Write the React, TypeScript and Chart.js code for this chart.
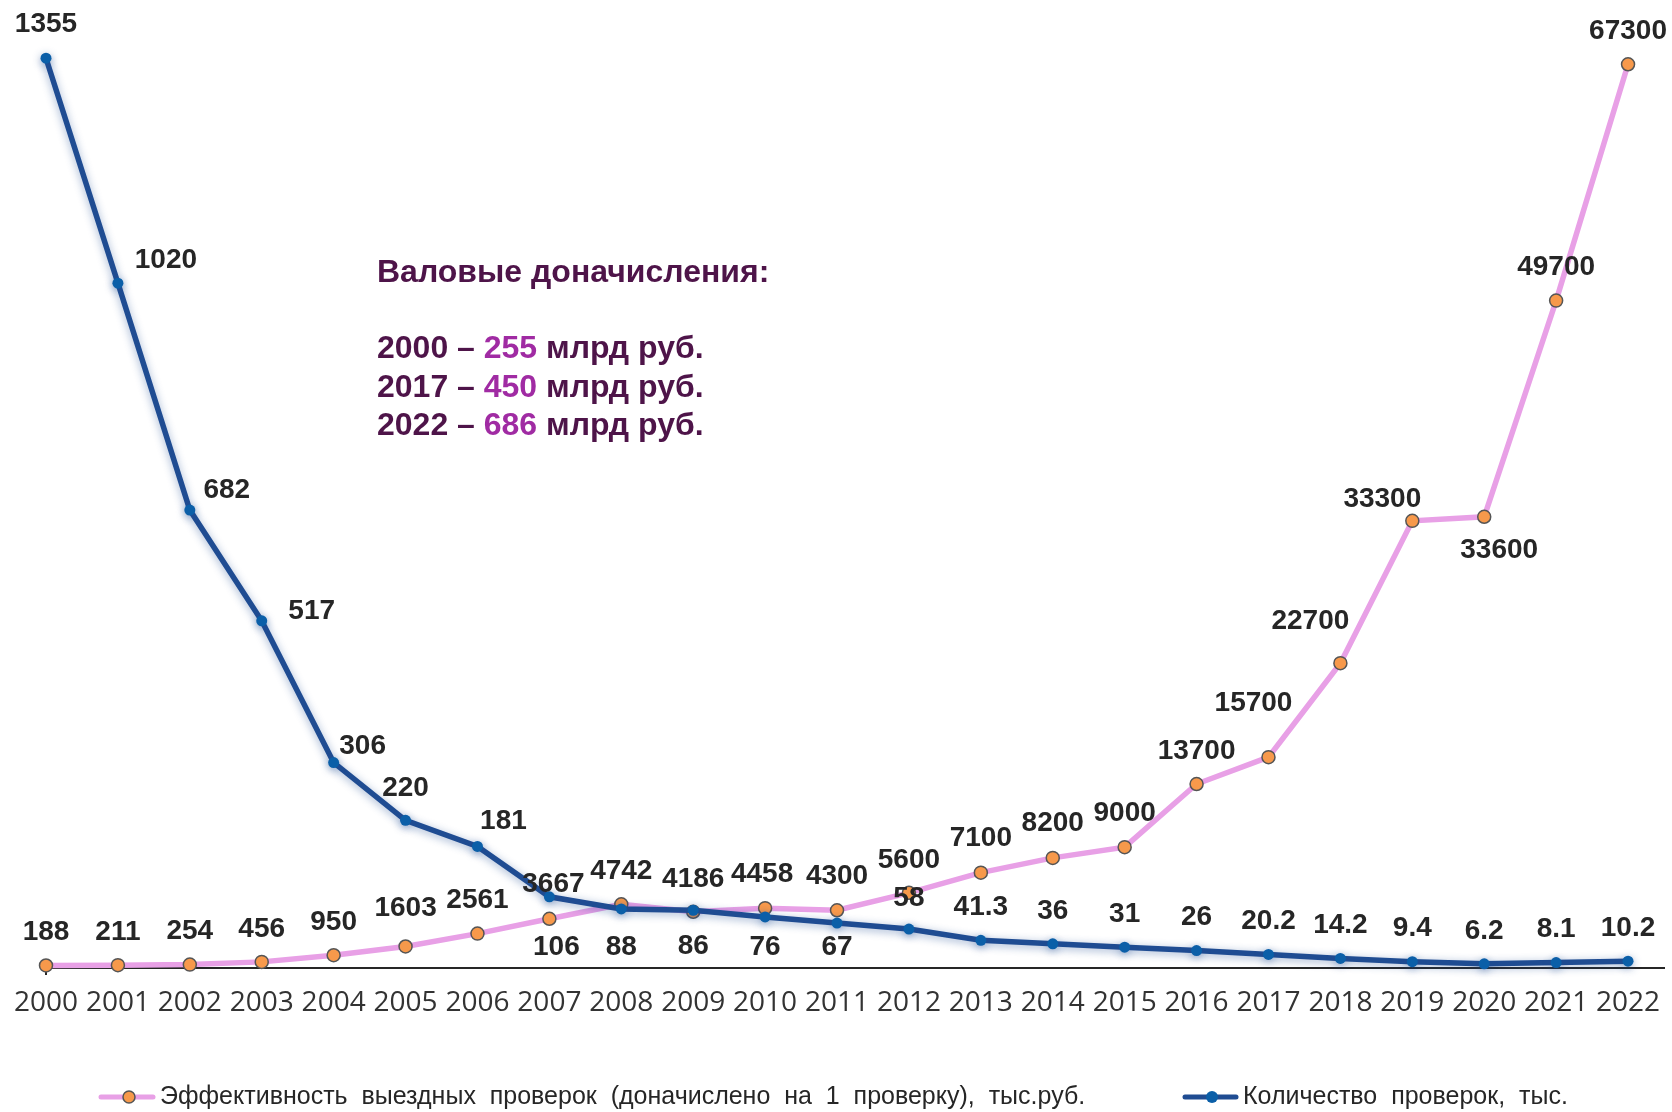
import React, { useEffect, useRef } from 'react';
import { Chart, registerables } from 'chart.js';

Chart.register(...registerables);

// ---------- data ----------
const years = [
  2000, 2001, 2002, 2003, 2004, 2005, 2006, 2007, 2008, 2009, 2010, 2011,
  2012, 2013, 2014, 2015, 2016, 2017, 2018, 2019, 2020, 2021, 2022,
];
const inspectionsCount = [
  1355, 1020, 682, 517, 306, 220, 181, 106, 88, 86, 76, 67, 58, 41.3, 36, 31,
  26, 20.2, 14.2, 9.4, 6.2, 8.1, 10.2,
];
const efficiencyPerInspection = [
  188, 211, 254, 456, 950, 1603, 2561, 3667, 4742, 4186, 4458, 4300, 5600,
  7100, 8200, 9000, 13700, 15700, 22700, 33300, 33600, 49700, 67300,
];
const seriesNames = [
  'Эффективность  выездных  проверок  (доначислено  на  1  проверку),  тыс.руб.',
  'Количество  проверок,  тыс.',
];
const noteTitle = 'Валовые доначисления:';
const noteYears = ['2000', '2017', '2022'];
const noteAmounts = ['255', '450', '686'];
const noteUnit = ' млрд руб.';

// ---------- label placement (pixel offsets from each point) ----------
const countLabelOffsets: [number, number][] = [
  [0, -34], [48, -23], [37, -20], [50, -10], [29, -16], [0, -32], [26, -25],
  [7, 50], [0, 38], [0, 36], [0, 30], [0, 24], [0, -31], [0, -33], [0, -33],
  [0, -33], [0, -33], [0, -33], [0, -33], [0, -33], [0, -33], [0, -33], [0, -33],
];
const effLabelOffsets: [number, number][] = [
  [0, -33], [0, -33], [0, -33], [0, -33], [0, -33], [0, -38], [0, -33],
  [4, -34], [0, -33], [0, -33], [-3, -34], [0, -34], [0, -33], [0, -34],
  [0, -35], [0, -34], [0, -33], [-15, -54], [-30, -42], [-30, -22], [15, 33],
  [0, -33], [0, -33],
];

const BLUE = '#1F4C92';
const BLUE_PT = '#0B5FA8';
const PINK = '#E8A0E6';
const ORANGE = '#F7994B';
const TEXT = '#262626';
const PURPLE_DARK = '#4E1449';
const PURPLE = '#A02BA3';

const labelFont = 'bold 28px "Liberation Sans", Arial, sans-serif';

const dataLabelsPlugin = {
  id: 'dataLabels',
  afterDatasetsDraw(chart: any) {
    const ctx = chart.ctx;
    ctx.save();
    ctx.font = labelFont;
    ctx.fillStyle = TEXT;
    ctx.textAlign = 'center';
    ctx.textBaseline = 'middle';
    chart.data.datasets.forEach((ds: any, di: number) => {
      const meta = chart.getDatasetMeta(di);
      const offs = di === 0 ? countLabelOffsets : effLabelOffsets;
      meta.data.forEach((pt: any, i: number) => {
        const v = ds.data[i].y;
        const [dx, dy] = offs[i];
        ctx.fillText(String(v), pt.x + dx, pt.y + dy);
      });
    });
    ctx.restore();
  },
};

const shadowPlugin = {
  id: 'blueShadow',
  beforeDatasetDraw(chart: any, args: any) {
    if (args.index === 0) {
      const ctx = chart.ctx;
      ctx.save();
      ctx.shadowColor = 'rgba(31,76,146,0.45)';
      ctx.shadowBlur = 8;
      ctx.shadowOffsetX = 0;
      ctx.shadowOffsetY = 2;
    }
  },
  afterDatasetDraw(chart: any, args: any) {
    if (args.index === 0) chart.ctx.restore();
  },
};

const overlayPlugin = {
  id: 'overlay',
  afterDraw(chart: any) {
    const ctx = chart.ctx;
    ctx.save();
    // annotation
    ctx.textAlign = 'left';
    ctx.textBaseline = 'middle';
    ctx.font = 'bold 32px "Liberation Sans", Arial, sans-serif';
    ctx.fillStyle = PURPLE_DARK;
    const nx = 377;
    ctx.fillText(noteTitle, nx, 273);
    const ys = [349, 388, 426];
    noteYears.forEach((yr, i) => {
      let x = nx;
      const a = yr + ' – ';
      ctx.fillStyle = PURPLE_DARK;
      ctx.fillText(a, x, ys[i]);
      x += ctx.measureText(a).width;
      ctx.fillStyle = PURPLE;
      ctx.fillText(noteAmounts[i], x, ys[i]);
      x += ctx.measureText(noteAmounts[i]).width;
      ctx.fillStyle = PURPLE_DARK;
      ctx.fillText(noteUnit, x, ys[i]);
    });

    // legend
    const ly = 1097;
    ctx.lineCap = 'round';
    ctx.lineWidth = 5;
    ctx.strokeStyle = PINK;
    ctx.beginPath();
    ctx.moveTo(101, ly);
    ctx.lineTo(153, ly);
    ctx.stroke();
    ctx.beginPath();
    ctx.arc(129, ly, 6, 0, Math.PI * 2);
    ctx.fillStyle = ORANGE;
    ctx.fill();
    ctx.lineWidth = 1.5;
    ctx.strokeStyle = '#555555';
    ctx.stroke();

    ctx.lineWidth = 5;
    ctx.strokeStyle = BLUE;
    ctx.beginPath();
    ctx.moveTo(1185, ly);
    ctx.lineTo(1236, ly);
    ctx.stroke();
    ctx.beginPath();
    ctx.arc(1212, ly, 6, 0, Math.PI * 2);
    ctx.fillStyle = BLUE_PT;
    ctx.fill();

    ctx.font = '25px "Liberation Sans", Arial, sans-serif';
    ctx.fillStyle = TEXT;
    ctx.fillText(seriesNames[0], 160, ly);
    ctx.fillText(seriesNames[1], 1243, ly);
    ctx.restore();
  },
};

export default function App() {
  const ref = useRef<HTMLCanvasElement | null>(null);

  useEffect(() => {
    document.body.style.margin = '0';
    const canvas = ref.current;
    if (!canvas) return;
    const chart = new Chart(canvas, {
      type: 'line',
      data: {
        datasets: [
          {
            label: seriesNames[1],
            data: years.map((y, i) => ({ x: y, y: inspectionsCount[i] })),
            yAxisID: 'yCount',
            borderColor: BLUE,
            borderWidth: 5.5,
            pointRadius: 5.5,
            pointBackgroundColor: BLUE_PT,
            pointBorderColor: BLUE_PT,
            pointBorderWidth: 0,
            tension: 0,
            clip: false,
          },
          {
            label: seriesNames[0],
            data: years.map((y, i) => ({ x: y, y: efficiencyPerInspection[i] })),
            yAxisID: 'yEff',
            borderColor: PINK,
            borderWidth: 5.5,
            pointRadius: 6.5,
            pointBackgroundColor: ORANGE,
            pointBorderColor: '#555555',
            pointBorderWidth: 1.5,
            tension: 0,
            clip: false,
          },
        ],
      },
      options: {
        animation: false,
        responsive: false,
        devicePixelRatio: 1,
        layout: { padding: { left: 46, right: 6, top: 28, bottom: 84 } },
        plugins: {
          legend: { display: false },
          tooltip: { enabled: false },
        },
        scales: {
          x: {
            type: 'linear',
            min: 2000,
            max: 2022.5,
            afterBuildTicks: (scale: any) => {
              scale.ticks = years.map((v) => ({ value: v }));
            },
            afterFit: (scale: any) => {
              scale.height = 60;
            },
            border: { display: true, color: TEXT, width: 2 },
            grid: {
              display: true,
              drawOnChartArea: false,
              drawTicks: true,
              tickLength: 7,
              lineWidth: 2,
              color: (c: any) => (c.index === 0 ? TEXT : 'rgba(0,0,0,0)'),
            },
            ticks: {
              autoSkip: false,
              maxRotation: 0,
              padding: 11,
              color: '#333333',
              font: { family: '"Open Sans", sans-serif', size: 28 },
              callback: (v: any) => String(v),
            },
          },
          yCount: {
            type: 'linear',
            position: 'left',
            display: false,
            min: 0,
            max: 1400,
          },
          yEff: {
            type: 'linear',
            position: 'right',
            display: false,
            min: 0,
            max: 70000,
          },
        },
      },
      plugins: [shadowPlugin, dataLabelsPlugin, overlayPlugin],
    });
    return () => chart.destroy();
  }, []);

  return (
    <div style={{ width: 1672, height: 1112 }}>
      <canvas ref={ref} width={1672} height={1112} />
    </div>
  );
}
